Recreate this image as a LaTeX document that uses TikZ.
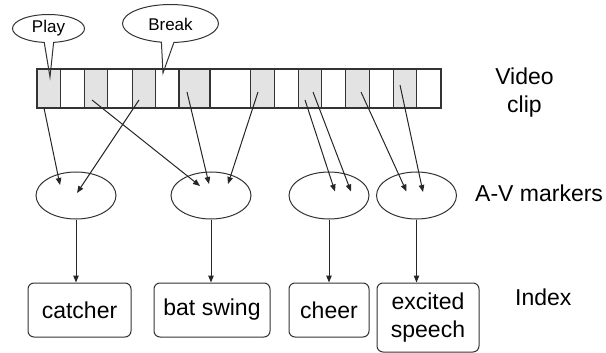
\documentclass[tikz,border=0pt]{standalone}
\usepackage{fontspec}
\setmainfont{Liberation Sans}
\usetikzlibrary{shapes.geometric, shapes.callouts, arrows.meta, calc}

\begin{document}
\begin{tikzpicture}[x=1pt, y=-1pt,
		every node/.style={inner sep=0, font=\fontsize{23}{28.5}\selectfont},
		shot/.style={draw=black!80, fill=black!11, line width=1.2pt, minimum width=23.7, minimum height=39},
		bubble/.style={ellipse callout, draw=black!80, line width=1pt, font=\fontsize{17}{20}\selectfont},
		avnode/.style={ellipse, draw=black!80, line width=1pt, minimum width=80, minimum height=47},
		entry/.style={draw=black!80, line width=1pt, rounded corners=6, minimum height=54, align=center},
		flow/.style={-{Triangle[length=7pt, width=5.5pt]}, line width=1pt, draw=black!85}]
			
			\useasboundingbox (0,0) rectangle (606,353);
			
			% Video clip strip
			\node[draw=black!80, line width=1.2pt, minimum width=404, minimum height=39] (strip) at (239,88.5) {};
			\node[shot] (f1) at (49,88.5) {};
			\node[shot] (f2) at (96,88.5) {};
			\node[shot] (f3) at (144,88.5) {};
			\node[shot, minimum width=31] (f4) at (194.5,88.5) {};
			\node[shot] (f5) at (262.5,88.5) {};
			\node[shot] (f6) at (310,88.5) {};
			\node[shot] (f7) at (357.5,88.5) {};
			\node[shot] (f8) at (405,88.5) {};
			\node[align=center] (cliplabel) at (524.5,92.4) {Video\\clip};
			
			% Play and Break callouts
			\node[bubble, minimum width=72, minimum height=28, callout absolute pointer={($(f1)+(1,-11.5)$)}] (play) at (48.5,28.5) {Play};
			\node[bubble, minimum width=96, minimum height=38, text height=15, callout absolute pointer={($(f3)+(19,-15.5)$)}] (break) at (170.5,23.5) {Break};
			
			% A-V markers
			\node[avnode] (m1) at (76,195.5) {};
			\node[avnode] (m2) at (211,195.5) {};
			\node[avnode] (m3) at (329,195.5) {};
			\node[avnode] (m4) at (416.5,195.5) {};
			\node[anchor=base west] (avlabel) at (475,201.7) {A-V markers};
			
			% Index entries
			\node[entry, minimum width=103] (catcher) at (79.5,310) {catcher};
			\node[entry, minimum width=116] (swing) at (212,310) {bat swing};
			\node[entry, minimum width=80] (cheer) at (329,310) {cheer};
			\node[entry, minimum width=102, minimum height=69] (speech) at (428,317.5) {excited\\speech};
			\node[anchor=base west] (indexlabel) at (515,305.7) {Index};
			
			% Frames to markers
			\draw[flow] ($(f1)+(-5,19.5)$) -- ($(m1)+(-16,-10.5)$);
			\draw[flow] ($(f3)+(-5,11.5)$) -- ($(m1)+(1,-2.5)$);
			\draw[flow] ($(f2)+(-4,11.5)$) -- ($(m2)+(-11,-9.5)$);
			\draw[flow] ($(f4)+(-7.5,3.5)$) -- ($(m2)+(-2,-11.5)$);
			\draw[flow] ($(f5)+(-4.5,3.5)$) -- ($(m2)+(17,-11.5)$);
			\draw[flow] ($(f6)+(-5,11.5)$) -- ($(m3)+(6,-4)$);
			\draw[flow] ($(f6)+(3,3.5)$) -- ($(m3)+(22,-4)$);
			\draw[flow] ($(f7)+(3.5,3.5)$) -- ($(m4)+(-10,-4)$);
			\draw[flow] ($(f8)+(-5,-3.5)$) -- ($(m4)+(6.5,-3.5)$);
			
			% Markers to index
			\draw[flow] (m1.south) -- (m1.south |- catcher.north);
			\draw[flow] (m2.south) -- (m2.south |- swing.north);
			\draw[flow] (m3.south) -- (m3.south |- cheer.north);
			\draw[flow] (m4.south) -- (m4.south |- speech.north);
			
		\end{tikzpicture}
\end{document}
